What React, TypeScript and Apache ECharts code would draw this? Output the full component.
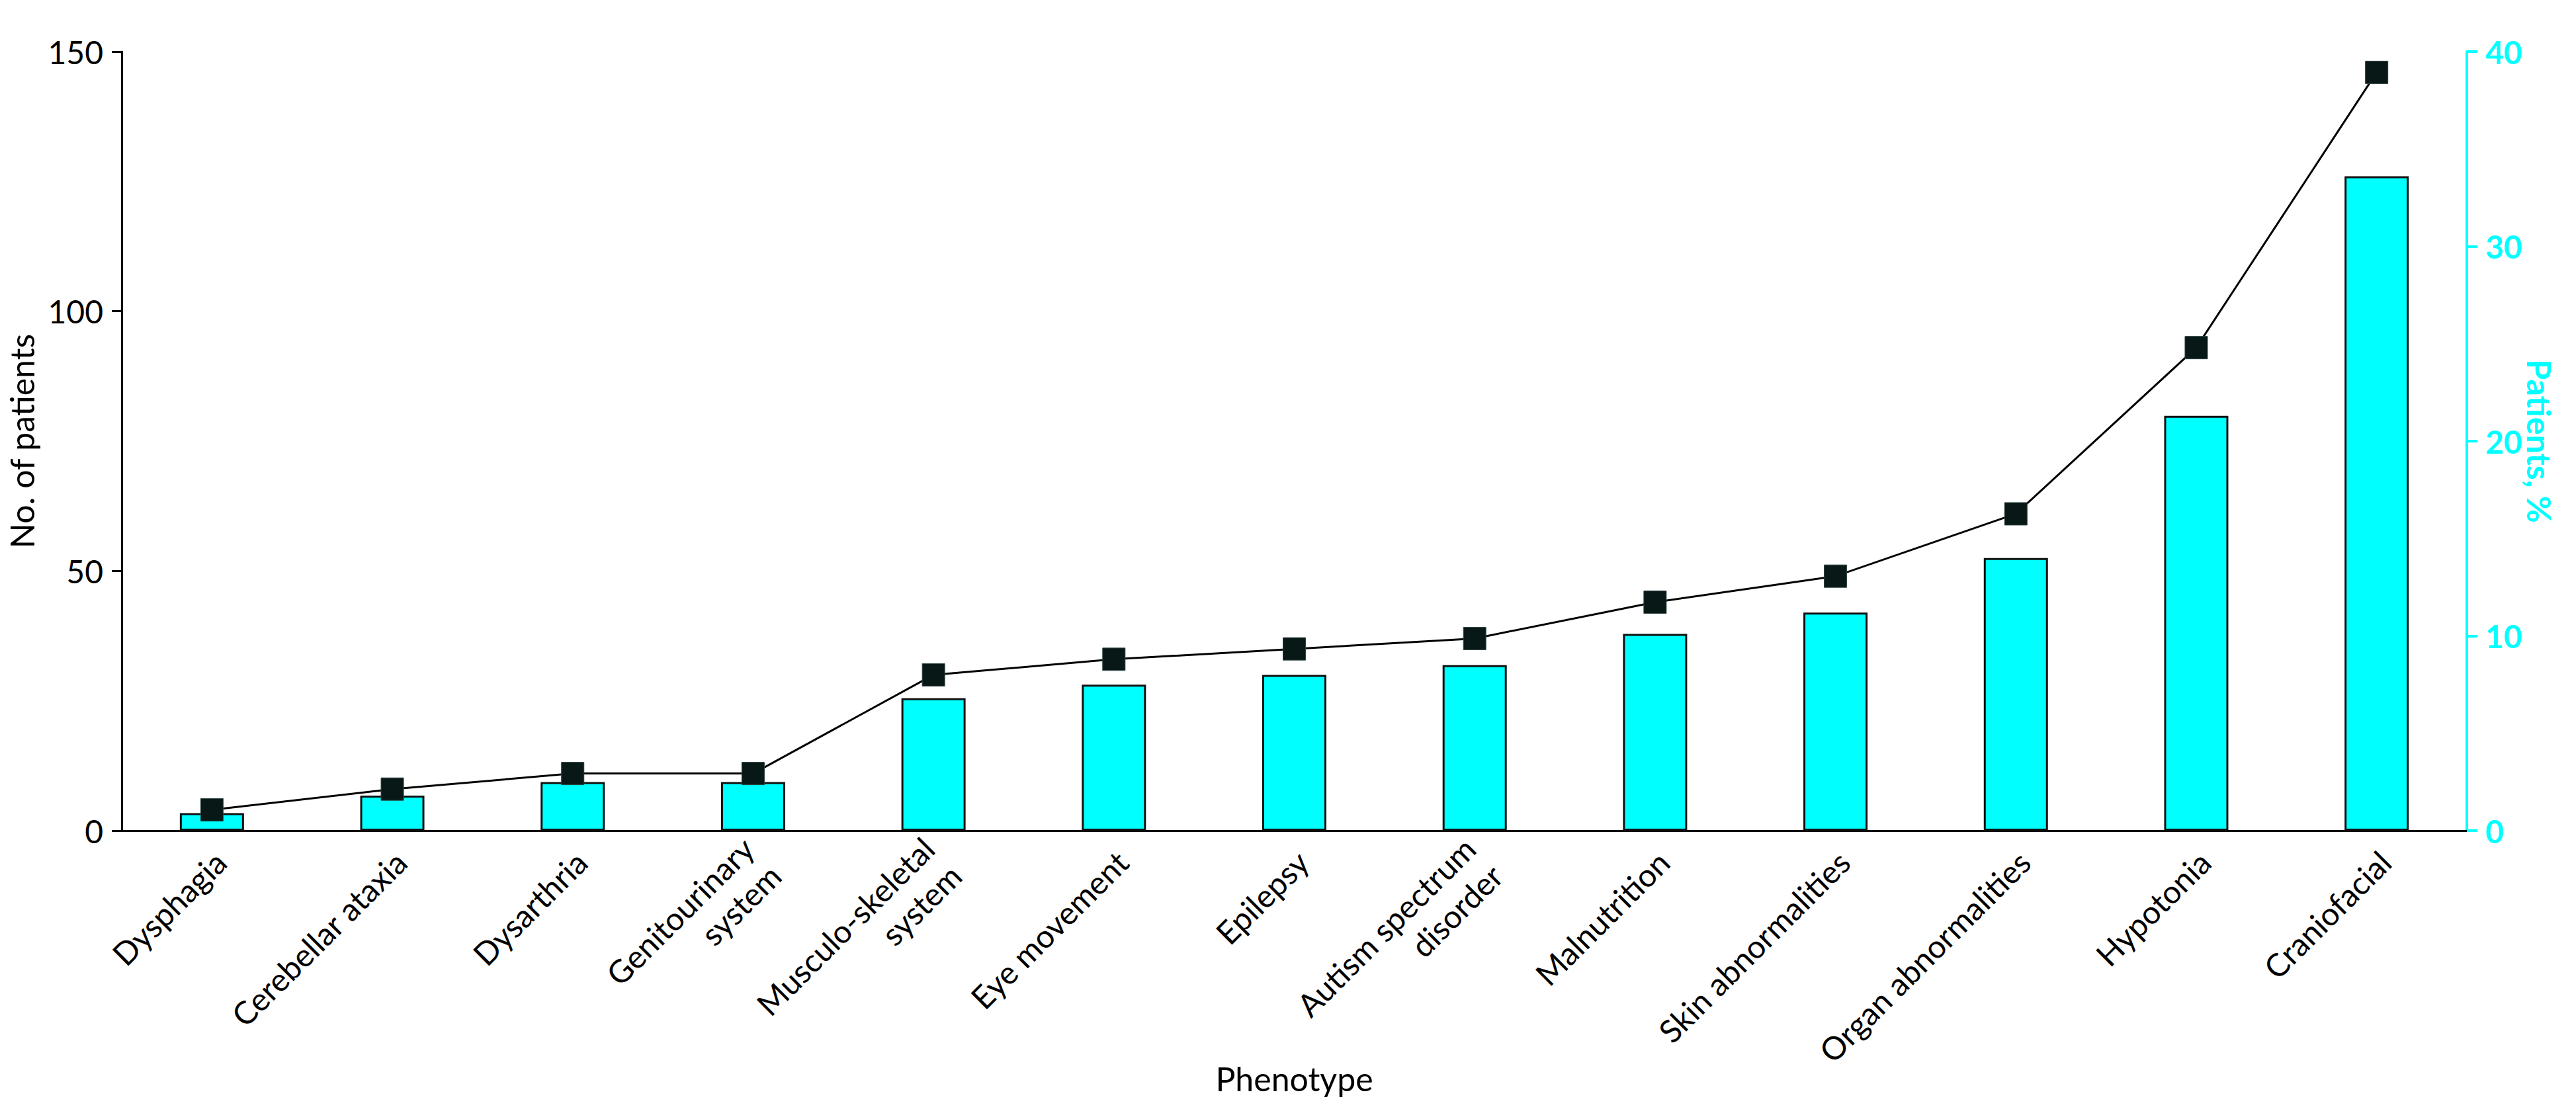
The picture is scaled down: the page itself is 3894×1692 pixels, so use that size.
import React, { useEffect, useRef } from "react";
import * as echarts from "echarts";

const categories = [
  "Dysphagia",
  "Cerebellar ataxia",
  "Dysarthria",
  "Genitourinary\nsystem",
  "Musculo-skeletal\nsystem",
  "Eye movement",
  "Epilepsy",
  "Autism spectrum\ndisorder",
  "Malnutrition",
  "Skin abnormalities",
  "Organ abnormalities",
  "Hypotonia",
  "Craniofacial",
];

// No. of patients (left axis, black line with square markers)
const patientCounts = [4, 8, 11, 11, 30, 33, 35, 37, 44, 49, 61, 93, 146];

// Patients, % (right axis, cyan bars)
const patientPercents = [0.9, 1.8, 2.5, 2.5, 6.8, 7.5, 8.0, 8.5, 10.1, 11.2, 14.0, 21.3, 33.6];

const leftTicks = { min: 0, max: 150, interval: 50 };
const rightTicks = { min: 0, max: 40, interval: 10 };

const CYAN = "#00FFFF";
const FONT = "Lato";

export default function App() {
  const ref = useRef<HTMLDivElement>(null);

  useEffect(() => {
    if (!ref.current) return;
    const chart = echarts.init(ref.current, undefined, { renderer: "svg" });
    chart.setOption({
      animation: false,
      backgroundColor: "#ffffff",
      textStyle: { fontFamily: FONT },
      grid: {
        left: 184,
        right: 165,
        top: 78,
        bottom: 436,
        containLabel: false,
        outerBoundsMode: "none",
      },
      xAxis: {
        type: "category",
        data: categories,
        boundaryGap: true,
        name: "Phenotype",
        nameLocation: "middle",
        nameGap: 350,
        nameMoveOverlap: false,
        nameTextStyle: { fontFamily: FONT, fontSize: 50, color: "#000" },
        axisLine: { show: true, lineStyle: { color: "#000", width: 3 } },
        axisTick: { show: false },
        axisLabel: {
          interval: 0,
          rotate: 45,
          fontFamily: FONT,
          fontSize: 48,
          lineHeight: 58,
          color: "#000",
          margin: 52,
          padding: [0, -18, 0, 0],
        },
        splitLine: { show: false },
      },
      yAxis: [
        {
          type: "value",
          position: "left",
          min: leftTicks.min,
          max: leftTicks.max,
          interval: leftTicks.interval,
          name: "No. of patients",
          nameLocation: "middle",
          nameGap: 126,
          nameMoveOverlap: false,
          nameTextStyle: { fontFamily: FONT, fontSize: 50, color: "#000" },
          axisLine: { show: true, lineStyle: { color: "#000", width: 3 } },
          axisTick: { show: true, inside: false, length: 15, lineStyle: { color: "#000", width: 3 } },
          axisLabel: { fontFamily: FONT, fontSize: 48, color: "#000", margin: 28 },
          splitLine: { show: false },
        },
        {
          type: "value",
          position: "right",
          min: rightTicks.min,
          max: rightTicks.max,
          interval: rightTicks.interval,
          name: "Patients, %",
          nameLocation: "middle",
          nameRotate: -90,
          nameGap: 85,
          nameMoveOverlap: false,
          nameTextStyle: { fontFamily: FONT, fontSize: 50, fontWeight: "bold", color: CYAN },
          axisLine: { show: true, lineStyle: { color: CYAN, width: 4 } },
          axisTick: { show: true, inside: false, length: 16, lineStyle: { color: CYAN, width: 4 } },
          axisLabel: { fontFamily: FONT, fontSize: 48, fontWeight: "bold", color: CYAN, margin: 28 },
          splitLine: { show: false },
        },
      ],
      series: [
        {
          name: "Patients, %",
          type: "bar",
          yAxisIndex: 1,
          data: patientPercents,
          barWidth: 97,
          itemStyle: { color: CYAN, borderColor: "#111", borderWidth: 3 },
          z: 2,
        },
        {
          name: "No. of patients",
          type: "line",
          yAxisIndex: 0,
          data: patientCounts,
          symbol: "rect",
          symbolSize: 34,
          lineStyle: { color: "#000", width: 3 },
          itemStyle: { color: "#081816", borderColor: "#2c4644", borderWidth: 1 },
          z: 3,
        },
      ],
    });
    return () => chart.dispose();
  }, []);

  return (
    <div
      ref={ref}
      style={{ position: "fixed", left: 0, top: 0, width: "3894px", height: "1692px", background: "#fff" }}
    />
  );
}
